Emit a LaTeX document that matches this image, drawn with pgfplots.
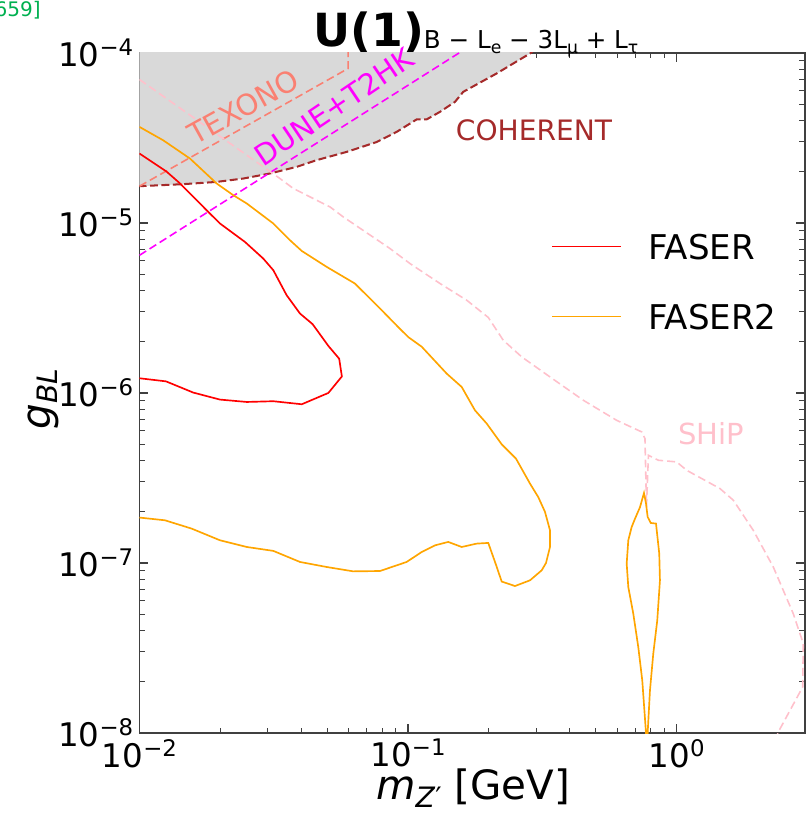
\documentclass[border=0pt]{standalone}
\usepackage{pgfplots}
\pgfplotsset{compat=1.18}
\usepackage{fontspec}
\setmainfont{DejaVu Sans}[ItalicFont={DejaVu Sans Oblique},BoldFont={DejaVu Sans Bold}]
\definecolor{coh}{HTML}{A52A2A}
\definecolor{texono}{HTML}{FA8072}
\definecolor{ship}{HTML}{FFC0CB}
\definecolor{faser}{HTML}{FF0000}
\definecolor{faser2}{HTML}{FFA500}
\definecolor{dune}{HTML}{FF00FF}
\definecolor{linkgreen}{HTML}{00B050}
\newcommand\fs[1]{\fontsize{#1}{#1}\selectfont}
% power-of-ten tick label in the text font
\newcommand\pw[1]{10\raisebox{6.2pt}{\fs{13}#1}}
% legend key: a short coloured stroke before the entry text
\newcommand\lkey[1]{\textcolor{#1}{\rule[7pt]{1.38cm}{0.95pt}}\hspace{0.54cm}}

\begin{document}
\begin{tikzpicture}[x=0.02cm,y=0.02cm]
\useasboundingbox (0,0) rectangle (808,814);
\begin{axis}[
  at={(2.79cm,1.62cm)}, anchor=south west,
  scale only axis, width=13.31cm, height=13.606cm,
  xmode=log, ymode=log,
  xmin=0.01, xmax=3.0, ymin=1e-8, ymax=1e-4,
  xtick={0.01,0.1,1}, xticklabels={\pw{−2},\pw{−1},\pw{0}},
  ytick={1e-8,1e-7,1e-6,1e-5,1e-4},
  yticklabels={\pw{−8},\pw{−7},\pw{−6},\pw{−5},\pw{−4}},
  ticklabel style={font=\fs{18.5}},
  axis line style={draw=black!75, line width=0.85pt},
  tick style={draw=black!75},
  major tick style={line width=0.8pt},
  minor tick style={line width=0.55pt},
  major tick length=0.18cm, minor tick length=0.11cm,
  legend style={at={(0.6198,0.7335)}, anchor=north west, draw=none, fill=none,
    font=\fs{19.4}, row sep=0.84cm, column sep=0pt, inner sep=0pt,
    nodes={inner sep=0pt}},
  legend cell align=left,
  legend image code/.code={},
]
% COHERENT excluded region
\addplot[fill=gray!30, draw=none, forget plot] coordinates {
 (0.009,1.644e-5) (0.01,1.644e-5) (0.01456,1.69e-5) (0.01936,1.742e-5) (0.02436,1.824e-5)
 (0.0306,1.953e-5) (0.03849,2.136e-5) (0.0457,2.34e-5) (0.0591,2.616e-5) (0.0764,2.99e-5)
 (0.0907,3.43e-5) (0.1076,4.06e-5) (0.1172,4.06e-5) (0.1315,4.50e-5) (0.1495,5.15e-5)
 (0.1605,5.9e-5) (0.2138,7.57e-5) (0.2845,9.92e-5) (0.30,1.06e-4)
 (0.30,1.2e-4) (0.009,1.2e-4)} \closedcycle;
\addplot[coh, line width=1.15pt, dash pattern=on 4.5pt off 2pt, forget plot] coordinates {
 (0.009,1.644e-5) (0.01,1.644e-5) (0.01456,1.69e-5) (0.01936,1.742e-5) (0.02436,1.824e-5)
 (0.0306,1.953e-5) (0.03849,2.136e-5) (0.0457,2.34e-5) (0.0591,2.616e-5) (0.0764,2.99e-5)
 (0.0907,3.43e-5) (0.1076,4.06e-5) (0.1172,4.06e-5) (0.1315,4.50e-5) (0.1495,5.15e-5)
 (0.1605,5.9e-5) (0.2138,7.57e-5) (0.2845,9.92e-5) (0.30,1.06e-4)};
% TEXONO
\addplot[texono, line width=0.9pt, dash pattern=on 4.5pt off 2.3pt, forget plot] coordinates {
 (0.01,1.644e-5) (0.0598,8.09e-5) (0.0598,1.2e-4)};
% DUNE+T2HK
\addplot[dune, line width=0.9pt, dash pattern=on 4.5pt off 2.3pt, forget plot] coordinates {
 (0.01,6.45e-6) (0.17,1.0965e-4)};
% SHiP
\addplot[ship, line width=0.9pt, dash pattern=on 4.5pt off 2.3pt, forget plot] coordinates {
 (0.01,6.97e-5) (0.03334,1.824e-5) (0.03738,1.594e-5) (0.0512,1.242e-5) (0.0574,1.084e-5)
 (0.0856,7.07e-6) (0.1016,5.77e-6) (0.1315,4.40e-6) (0.1653,3.51e-6) (0.1989,2.78e-6)
 (0.2262,2.04e-6) (0.2648,1.63e-6) (0.3376,1.242e-6) (0.449,9.06e-7) (0.598,6.90e-7)
 (0.741,5.90e-7) (0.762,5.39e-7) (0.772,2.13e-7) (0.785,4.30e-7) (0.854,4.02e-7)
 (1.0,3.93e-7) (1.089,3.51e-7) (1.449,2.74e-7) (1.625,2.34e-7) (1.929,1.556e-7)
 (2.289,9.47e-8) (2.716,5.04e-8) (2.96,3.36e-8) (2.946,1.866e-8) (2.389,1.014e-8) (2.33,9e-9)};
% FASER
\addplot[faser, line width=0.95pt] coordinates {
 (0.01,2.56e-5) (0.01263,2.0e-5) (0.01416,1.706e-5) (0.01804,1.161e-5) (0.01994,9.92e-6)
 (0.0247,7.73e-6) (0.0289,6.17e-6) (0.0315,5.27e-6) (0.0353,3.76e-6) (0.0396,2.93e-6)
 (0.0441,2.54e-6) (0.0505,1.89e-6) (0.0554,1.59e-6) (0.0567,1.25e-6) (0.0505,1.0e-6)
 (0.0402,8.58e-7) (0.0315,8.94e-7) (0.0251,8.85e-7) (0.01994,9.14e-7) (0.01586,1.005e-6)
 (0.01255,1.17e-6) (0.01,1.22e-6)};
\addlegendentry{\lkey{faser}FASER}
% FASER2
\addplot[faser2, line width=0.95pt] coordinates {
 (0.01,3.67e-5) (0.01226,3.06e-5) (0.01542,2.39e-5) (0.01938,1.706e-5) (0.02235,1.455e-5)
 (0.0251,1.30e-5) (0.0315,9.92e-6) (0.03634,7.91e-6) (0.0402,6.84e-6) (0.0498,5.51e-6)
 (0.0634,4.40e-6) (0.0786,3.14e-6) (0.0919,2.44e-6) (0.1002,2.13e-6) (0.1124,1.87e-6)
 (0.1392,1.30e-6) (0.1584,1.084e-6) (0.1774,7.91e-7) (0.1962,6.61e-7) (0.2231,4.99e-7)
 (0.2522,4.11e-7) (0.2844,2.93e-7) (0.3053,2.44e-7) (0.3233,2.0e-7) (0.3376,1.556e-7)
 (0.3376,1.242e-7) (0.3262,1.0e-7) (0.3145,9.06e-8) (0.2844,7.91e-8) (0.250,7.32e-8)
 (0.2231,7.78e-8) (0.2107,1.014e-7) (0.1989,1.312e-7) (0.180,1.30e-7) (0.1584,1.242e-7)
 (0.1411,1.33e-7) (0.126,1.27e-7) (0.1124,1.161e-7) (0.0988,1.014e-7) (0.0786,8.97e-8)
 (0.0625,8.93e-8) (0.0498,9.47e-8) (0.0396,1.014e-7) (0.0315,1.178e-7) (0.0251,1.242e-7)
 (0.01994,1.36e-7) (0.01564,1.593e-7) (0.01244,1.783e-7) (0.01,1.85e-7)};
\addlegendentry{\lkey{faser2}FASER2}
\addplot[faser2, line width=0.95pt, forget plot] coordinates {
 (0.777,8e-9) (0.7688,1e-8) (0.7446,2.04e-8) (0.7194,3.21e-8) (0.6893,5.04e-8)
 (0.6605,7.22e-8) (0.6514,9.91e-8) (0.6605,1.36e-7) (0.680,1.63e-7) (0.6995,1.82e-7)
 (0.7302,2.13e-7) (0.7556,2.58e-7) (0.7688,2.24e-7) (0.7798,1.866e-7) (0.8002,1.72e-7)
 (0.8375,1.705e-7) (0.8612,1.136e-7) (0.8664,7.91e-8) (0.8467,4.60e-8) (0.8182,2.93e-8)
 (0.7954,1.78e-8) (0.7798,1e-8) (0.785,8e-9)};
\end{axis}
% title and axis labels
\node[anchor=base west, inner sep=0pt] at (313,767)
  {\fs{26}\bfseries U(1)\raisebox{-1pt}{\mdseries\fs{14}B − L\raisebox{-2.5pt}{\fs{9.8}e} − 3L\raisebox{-2.5pt}{\fs{9.8}μ} + L\raisebox{-2.5pt}{\fs{9.8}τ}}};
\node[anchor=base west, inner sep=0pt] at (376,14)
  {\fs{23}\textit{m}\raisebox{-4pt}{\fs{16}\textit{Z}′} [GeV]};
\node[anchor=base, inner sep=0pt, rotate=90] at (50,415)
  {\fs{23}\textit{g}\raisebox{-4pt}{\fs{16}\textit{BL}}};
% curve annotations
\node[coh, font=\fs{16}] at (534,684) {COHERENT};
\node[ship, font=\fs{16.5}] at (711,380) {SHiP};
\node[texono, font=\fs{16.5}, rotate=29] at (243,707) {TEXONO};
\node[dune, font=\fs{16.5}, rotate=34] at (334,707) {DUNE+T2HK};
\node[linkgreen, font=\fs{11.4}, anchor=base east, inner sep=0pt] at (41,797) {[659]};
\end{tikzpicture}
\end{document}
